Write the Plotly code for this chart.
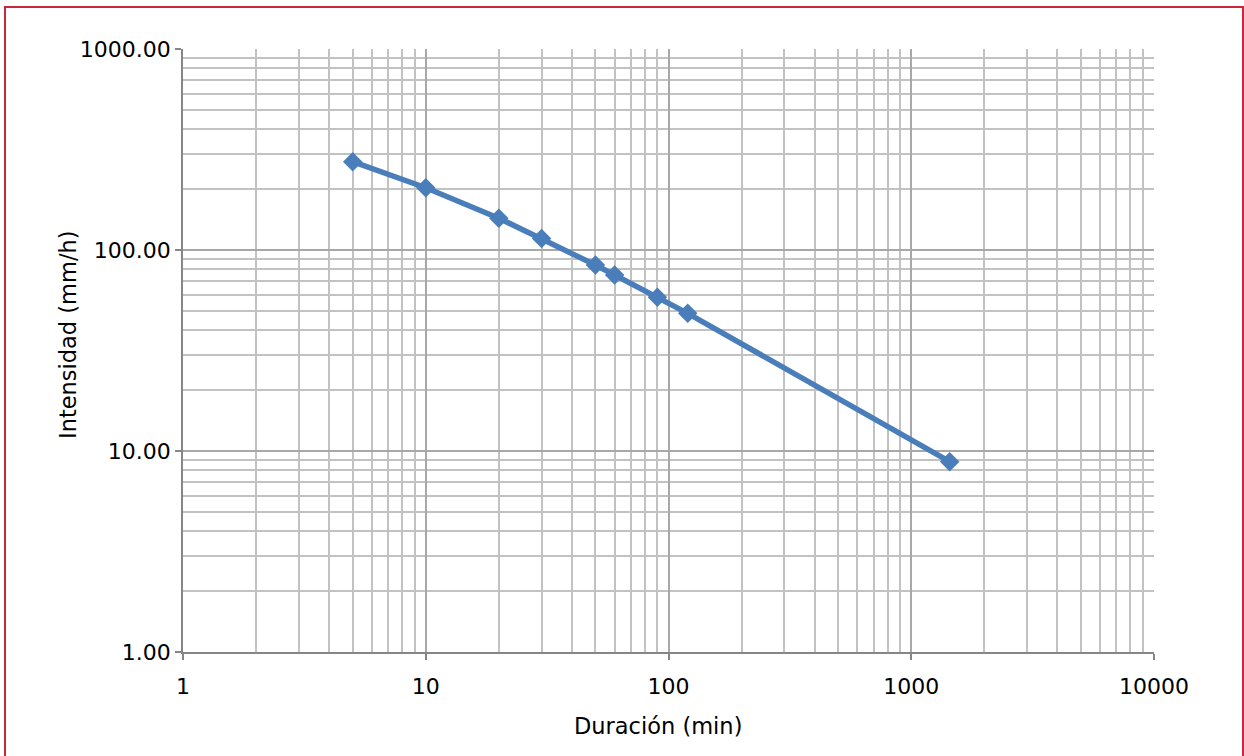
import plotly.graph_objects as go

duracion = [5, 10, 20, 30, 50, 60, 90, 120, 1440]
intensidad = [275, 204, 144, 114, 84.2, 75.1, 58.2, 48.4, 8.85]

x_ticks = [1, 10, 100, 1000, 10000]
x_ticktext = ["1", "10", "100", "1000", "10000"]
y_ticks = [1, 10, 100, 1000]
y_ticktext = ["1.00", "10.00", "100.00", "1000.00"]

x_minor = [m * d for d in [1, 10, 100, 1000] for m in range(2, 10)]
y_minor = [m * d for d in [1, 10, 100] for m in range(2, 10)]

x_title = "Duración (min)"
y_title = "Intensidad (mm/h)"

fig = go.Figure()
fig.add_trace(go.Scatter(
    x=duracion, y=intensidad, mode="lines+markers",
    line=dict(color="#4a7ebb", width=5.5),
    marker=dict(symbol="diamond", size=15, color="#4a7ebb"),
    showlegend=False,
))

W, H = 1244, 756
L, R, T, B = 183, 90, 49, 104
pw, ph = W - L - R, H - T - B

def px_to_paper_x(px):
    return (px - L) / pw

def px_to_paper_y(py):
    return (H - B - py) / ph

fig.add_shape(type="rect", xref="paper", yref="paper",
              x0=px_to_paper_x(5), x1=px_to_paper_x(1243),
              y0=px_to_paper_y(800), y1=px_to_paper_y(7),
              line=dict(color="#c8283c", width=2), fillcolor="rgba(0,0,0,0)", layer="below")

title_font = dict(family="DejaVu Sans", size=22.5, color="#000000")
fig.add_annotation(text=x_title, xref="paper", yref="paper",
                   x=px_to_paper_x(658), y=px_to_paper_y(726),
                   xanchor="center", yanchor="middle", showarrow=False, font=title_font)
fig.add_annotation(text=y_title, xref="paper", yref="paper", textangle=-90,
                   x=px_to_paper_x(68), y=px_to_paper_y(335),
                   xanchor="center", yanchor="middle", showarrow=False, font=title_font)

axis_common = dict(
    showline=True, linecolor="#868686", linewidth=1.5,
    ticks="outside", ticklen=6, tickcolor="#868686", tickwidth=1.5,
    showgrid=True, gridcolor="#a8a8a8", gridwidth=1.5,
    zeroline=False, mirror=False,
    tickfont=dict(family="DejaVu Sans", size=22, color="#000000"),
)

fig.update_xaxes(
    type="log", range=[0, 4], tickvals=x_ticks, ticktext=x_ticktext,
    ticklabelstandoff=8,
    minor=dict(tickvals=x_minor, showgrid=True, gridcolor="#c2c2c2", gridwidth=1.5, ticks=""),
    **axis_common,
)
fig.update_yaxes(
    type="log", range=[0, 3], tickvals=y_ticks, ticktext=y_ticktext,
    minor=dict(tickvals=y_minor, showgrid=True, gridcolor="#c2c2c2", gridwidth=1.5, ticks=""),
    **axis_common,
)

fig.update_layout(
    width=W, height=H,
    margin=dict(l=L, r=R, t=T, b=B),
    paper_bgcolor="white", plot_bgcolor="white",
)

fig.write_html("out.html", config={"displayModeBar": False},
               post_script="document.body.style.margin='0';document.body.style.overflow='hidden';")
